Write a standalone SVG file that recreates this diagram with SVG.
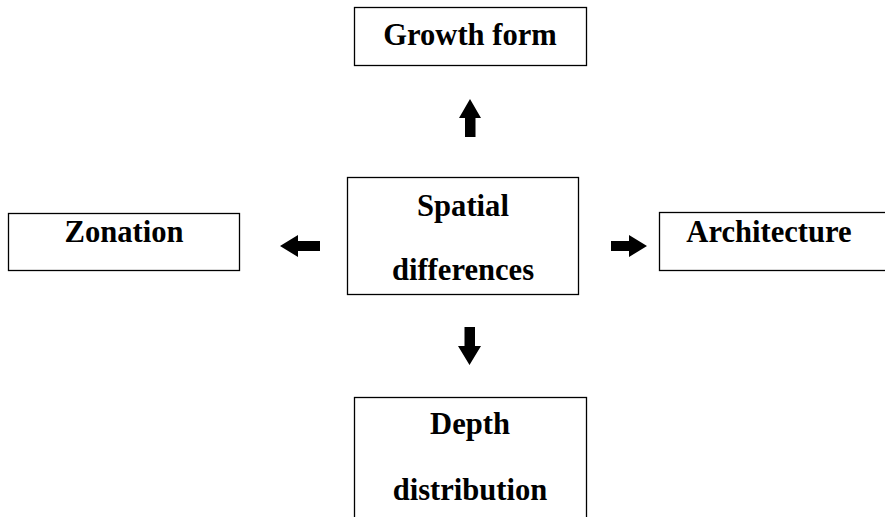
<svg xmlns="http://www.w3.org/2000/svg" width="885" height="517" viewBox="0 0 885 517">
<style>
.box{fill:#fff;stroke:#000;stroke-width:1.3}
text{font-family:'Liberation Serif', 'Times New Roman', Times, serif;font-weight:700;font-size:30.6px;text-anchor:middle;fill:#000}
.ar{fill:#000}
</style>
<rect width="885" height="517" fill="#fff"/>
<g id="growth-form"><rect class="box" x="354.5" y="7.5" width="232" height="58"/><text x="470" y="45">Growth form</text></g>
<g id="zonation"><rect class="box" x="8.5" y="213.5" width="231" height="57"/><text x="124" y="242">Zonation</text></g>
<g id="spatial-differences"><rect class="box" x="347.5" y="177.5" width="231" height="117"/><text x="463" y="216">Spatial</text><text x="463" y="280">differences</text></g>
<g id="architecture"><rect class="box" x="659.5" y="212.5" width="240" height="58"/><text x="769" y="242">Architecture</text></g>
<g id="depth-distribution"><rect class="box" x="354.5" y="397.5" width="232" height="130"/><text x="470" y="434">Depth</text><text x="470" y="500">distribution</text></g>
<g id="connectors">
<polygon class="ar" points="470,99 481,118 475.5,118 475.5,137 465,137 465,118 459,118"/>
<polygon class="ar" points="469.5,365 481,346 475,346 475,327 464.5,327 464.5,346 458,346"/>
<polygon class="ar" points="280,246 298,235 298,241 320,241 320,251 298,251 298,257"/>
<polygon class="ar" points="647,246 629,235 629,241 611,241 611,251 629,251 629,257"/>
</g>
</svg>
